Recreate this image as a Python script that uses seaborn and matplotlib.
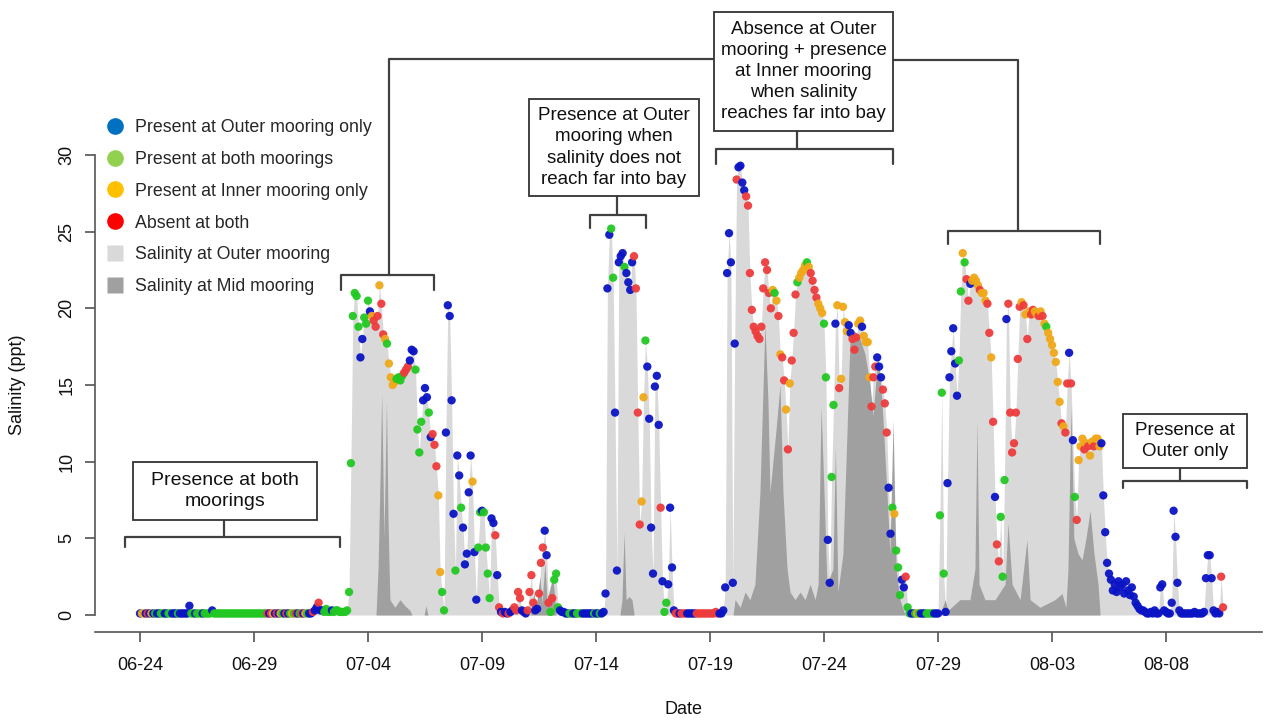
import numpy as np
import pandas as pd
import matplotlib
matplotlib.use("Agg")
import matplotlib.pyplot as plt
from matplotlib.lines import Line2D
from matplotlib.patches import Rectangle
import seaborn as sns

# ---------------------------------------------------------------------------
# Outer-mooring salinity (ppt), one reading every 2 h starting 06-24 00:00.
# Each inner list is one day (12 readings).
# ---------------------------------------------------------------------------
outer_jun24_jun30 = [
    [0.1, 0.1, 0.1, 0.1, 0.1, 0.1, 0.1, 0.1, 0.1, 0.1, 0.1, 0.1],
    [0.1, 0.1, 0.1, 0.1, 0.1, 0.1, 0.1, 0.1, 0.1, 0.1, 0.1, 0.1],
    [0.1, 0.1, 0.6, 0.1, 0.1, 0.1, 0.1, 0.1, 0.1, 0.1, 0.1, 0.1],
    [0.1, 0.1, 0.3, 0.1, 0.1, 0.1, 0.1, 0.1, 0.1, 0.1, 0.1, 0.1],
    [0.1, 0.1, 0.1, 0.1, 0.1, 0.1, 0.1, 0.1, 0.1, 0.1, 0.1, 0.1],
    [0.1, 0.1, 0.1, 0.1, 0.1, 0.1, 0.1, 0.1, 0.1, 0.1, 0.1, 0.1],
    [0.1, 0.1, 0.1, 0.1, 0.1, 0.1, 0.1, 0.1, 0.1, 0.1, 0.1, 0.1],
]
outer_jul01_jul07 = [
    [0.1, 0.1, 0.1, 0.1, 0.1, 0.1, 0.1, 0.2, 0.3, 0.5, 0.8, 0.3],
    [0.3, 0.2, 0.4, 0.2, 0.2, 0.3, 0.2, 0.3, 0.3, 0.2, 0.2, 0.2],
    [0.2, 0.3, 1.5, 9.9, 19.5, 21.0, 20.8, 18.8, 16.8, 18.0, 19.4, 19.0],
    [20.5, 19.8, 19.5, 19.2, 18.8, 19.5, 21.5, 20.3, 18.3, 18.0, 17.7, 16.4],
    [15.5, 15.0, 15.2, 15.4, 15.5, 15.3, 15.6, 15.8, 16.0, 16.2, 16.6, 17.3],
    [17.2, 16.0, 12.1, 10.6, 12.6, 14.0, 14.8, 14.2, 13.2, 11.6, 11.8, 11.1],
    [9.7, 7.8, 2.8, 1.5, 0.3, 11.9, 20.2, 19.5, 14.0, 6.6, 2.9, 10.4],
]
outer_jul08_jul14 = [
    [9.1, 7.0, 5.7, 3.3, 4.0, 8.0, 10.4, 8.7, 4.1, 1.0, 4.4, 6.7],
    [6.8, 6.7, 4.4, 2.7, 1.1, 6.3, 6.0, 5.2, 2.6, 0.5, 0.2, 0.1],
    [0.2, 0.1, 0.1, 0.2, 0.3, 0.5, 0.3, 1.5, 1.1, 0.3, 0.2, 0.1],
    [0.3, 1.5, 2.6, 0.8, 0.3, 0.4, 1.4, 3.4, 4.4, 5.5, 3.9, 0.8],
    [0.2, 1.1, 2.3, 2.7, 0.5, 0.3, 0.2, 0.2, 0.1, 0.1, 0.1, 0.1],
    [0.1, 0.1, 0.1, 0.1, 0.1, 0.1, 0.1, 0.1, 0.1, 0.1, 0.1, 0.1],
    [0.1, 0.1, 0.1, 0.1, 0.2, 1.4, 21.3, 24.8, 25.2, 22.0, 13.2, 2.9],
]
outer_jul15_jul21 = [
    [23.0, 23.4, 23.6, 22.7, 22.3, 21.7, 21.2, 23.0, 23.4, 21.3, 13.2, 5.9],
    [7.4, 14.2, 17.9, 16.2, 12.8, 5.7, 2.7, 14.9, 15.6, 12.4, 7.0, 2.2],
    [0.2, 0.8, 2.0, 7.0, 3.1, 0.3, 0.1, 0.1, 0.1, 0.1, 0.1, 0.1],
    [0.1, 0.1, 0.1, 0.1, 0.1, 0.1, 0.1, 0.1, 0.1, 0.1, 0.1, 0.1],
    [0.1, 0.1, 0.1, 0.2, 0.1, 0.1, 0.1, 0.3, 1.8, 22.3, 24.9, 23.0],
    [2.1, 17.7, 28.4, 29.2, 29.3, 28.2, 27.7, 27.3, 26.7, 22.3, 19.9, 18.8],
    [18.5, 18.2, 18.0, 18.8, 21.3, 23.0, 22.5, 21.0, 20.0, 21.2, 21.0, 20.5],
]
outer_jul22_jul28 = [
    [19.5, 17.0, 16.8, 15.3, 13.4, 10.8, 15.1, 16.6, 18.4, 20.9, 21.7, 22.0],
    [22.3, 22.5, 22.8, 23.0, 22.7, 22.3, 21.8, 21.2, 20.7, 20.3, 20.0, 19.7],
    [19.0, 15.5, 4.9, 2.1, 9.0, 13.7, 19.0, 20.2, 14.8, 15.4, 20.1, 19.1],
    [18.5, 18.9, 18.4, 18.0, 17.3, 18.1, 19.0, 19.2, 18.8, 18.2, 17.8, 17.8],
    [15.5, 13.6, 15.5, 16.2, 16.8, 16.2, 15.5, 14.7, 13.8, 11.9, 8.3, 5.3],
    [7.0, 6.6, 4.2, 3.1, 1.3, 2.3, 1.8, 2.5, 0.5, 0.1, 0.1, 0.1],
    [0.1, 0.1, 0.1, 0.1, 0.1, 0.1, 0.1, 0.1, 0.1, 0.1, 0.1, 0.1],
]
outer_jul29_aug04 = [
    [0.1, 6.5, 14.5, 2.7, 0.2, 8.6, 15.5, 17.2, 18.7, 16.4, 14.3, 16.6],
    [21.1, 23.6, 23.0, 21.9, 20.5, 21.6, 21.8, 22.0, 21.8, 21.5, 21.2, 21.0],
    [21.0, 20.5, 20.3, 18.4, 16.8, 12.6, 7.7, 4.6, 3.5, 6.4, 2.5, 8.8],
    [19.3, 20.3, 13.2, 10.6, 11.2, 13.2, 16.7, 20.1, 20.4, 20.2, 19.6, 18.0],
    [19.8, 19.6, 19.9, 19.8, 19.6, 19.5, 19.8, 19.5, 19.0, 18.8, 18.4, 18.0],
    [17.6, 17.1, 16.5, 15.2, 13.9, 12.5, 12.3, 11.9, 15.1, 17.1, 15.1, 11.4],
    [7.7, 6.2, 10.1, 11.0, 11.5, 10.8, 11.2, 11.0, 10.4, 11.3, 11.0, 11.5],
]
outer_aug05_aug10 = [
    [11.5, 11.0, 11.2, 7.8, 5.4, 3.4, 2.7, 2.3, 1.6, 2.0, 1.5, 2.2],
    [1.8, 2.0, 1.4, 2.2, 1.6, 1.3, 1.8, 1.2, 0.8, 0.6, 0.4, 0.3],
    [0.3, 0.2, 0.1, 0.1, 0.2, 0.1, 0.3, 0.1, 0.1, 1.8, 2.0, 0.3],
    [0.2, 0.1, 0.1, 0.8, 6.8, 5.1, 2.1, 0.3, 0.1, 0.1, 0.1, 0.1],
    [0.1, 0.1, 0.1, 0.2, 0.1, 0.1, 0.1, 0.1, 0.2, 2.4, 3.9, 3.9],
    [2.4, 0.3, 0.1, 0.2, 0.1, 2.5, 0.5],
]

# Detection status for each reading:
# b = outer mooring only, g = both moorings, y = inner mooring only, r = absent
status_jun24_jun30 = ["byybrbybgbbg", "gbbggbbbgbbb", "bbbggbgggbgg", "ggbggggggggg",
                      "gggggggggggg", "gggggggrbryb", "rbygbrbgygrb"]
status_jul01_jul07 = ["grbygbbrbbrb", "bggggbgggggg", "ggggggggbbgg", "gbyrrryrrygy",
                      "yyyggggrrrbb", "bggggbbbgbrr", "ryyggbbbbbgb"]
status_jul08_jul14 = ["bgbbbbbybbgg", "bggggbbrbrbr", "bbrbbrrrrbbb", "rrrrbbrrrbbr",
                      "grgggbbbbbgg", "bbgggbbbbbbg", "bbgbbbbbggbb"]
status_jul15_jul21 = ["bbbgbbbbrrrr", "yygbbbbbbbrb", "ggbbbbrrbrrr", "bbbbbrrrrrrr",
                      "rrrrrbbbbbbb", "bbrbbbbrrrrr", "rrrrrrrrrygy"]
status_jul22_jul28 = ["ryrryryrrrgy", "yyygyrrrryyy", "ggbbggbyryyy", "ybbrrryybyyy",
                      "yrrrbbbrrrbb", "gygggbbrggbb", "gygbbbggggbb"]
status_jul29_aug04 = ["bgggbbbbbbbg", "gygrrbyyyyry", "yyrryrbrrggg", "brrrrrrryryr",
                      "yrryyryrygyy", "yyyyyryrrbrb", "gryyyryryyry"]
status_aug05_aug10 = ["yybbbbbbbbbb", "bbbbbbbbbbbb", "bbbbbbbbbbbb", "bbbbbbbbbbbb",
                      "bbbbbbbbbbbb", "bbbbbrr"]

# Mid-mooring salinity (ppt): day offset from 06-24 00:00 and value
mid_day = [0.0, 10.35, 10.44, 10.53, 10.60, 10.66, 10.70, 10.75, 10.81, 10.88, 10.96,
           11.18, 11.40, 11.62, 11.84, 11.93, 12.46, 12.54, 12.63,
           17.11, 17.28, 17.37, 17.54, 17.63, 17.76, 17.85, 18.11, 18.25,
           21.05, 21.14, 21.23, 21.32, 21.45, 21.58, 21.67,
           26.01, 26.10, 26.32, 26.54, 26.75, 26.97, 27.19, 27.41, 27.54, 27.63, 27.76,
           27.89, 28.07, 28.20, 28.38, 28.51, 28.73, 28.95, 29.17, 29.39, 29.61, 29.74,
           29.87, 30.00, 30.13, 30.39, 30.50, 30.61, 30.83, 31.01, 31.14, 31.36, 31.58,
           31.80, 32.02, 32.15, 32.37, 32.54, 32.76, 32.89, 33.03, 33.16, 33.33, 33.55,
           35.09, 35.31, 35.44, 35.96, 36.40, 36.62, 36.71, 36.80, 37.06, 37.50, 37.94,
           38.07, 38.25, 38.60, 38.90, 39.04, 39.47, 40.13, 40.44, 40.61, 40.70, 40.83,
           40.96, 41.14, 41.32, 41.49, 41.67, 41.84, 42.02, 42.11, 47.5]
mid_sal = [0.0, 0.0, 3.0, 9.0, 14.5, 9.0, 5.0, 9.0, 14.0, 6.0, 1.0,
           0.5, 1.0, 0.6, 0.3, 0.0, 0.0, 0.6, 0.0,
           0.0, 1.5, 0.5, 2.5, 0.8, 3.4, 1.0, 2.5, 0.0,
           0.0, 1.0, 5.4, 1.0, 1.2, 1.0, 0.0,
           0.0, 1.0, 0.5, 1.5, 1.0, 2.0, 8.0, 19.0, 14.0, 8.0, 10.0,
           12.0, 15.0, 8.0, 3.0, 1.5, 1.0, 1.5, 1.0, 2.0, 1.0, 2.0,
           13.6, 8.0, 2.0, 3.0, 11.0, 1.5, 4.0, 12.0, 18.0, 18.5, 18.0,
           17.0, 15.0, 13.0, 17.0, 14.0, 8.0, 4.0, 12.7, 3.0, 1.0, 0.0,
           0.0, 1.0, 0.3, 1.0, 1.0, 3.0, 12.7, 2.0, 1.0, 1.0, 2.0,
           6.0, 2.0, 1.0, 4.9, 1.0, 0.5, 1.0, 1.4, 0.5, 3.0, 13.6,
           5.0, 4.0, 3.6, 5.0, 6.8, 4.0, 2.0, 0.0, 0.0]

tick_days = [0, 5, 10, 15, 20, 25, 30, 35, 40, 45]
tick_labels = ["06-24", "06-29", "07-04", "07-09", "07-14",
               "07-19", "07-24", "07-29", "08-03", "08-08"]

status_names = {
    "b": "Present at Outer mooring only",
    "g": "Present at both moorings",
    "y": "Present at Inner mooring only",
    "r": "Absent at both",
}
point_colors = {
    "Present at Outer mooring only": "#0a14c4",
    "Present at both moorings": "#22c822",
    "Present at Inner mooring only": "#f0a818",
    "Absent at both": "#ee3c3c",
}
key_colors = ["#0070c0", "#92d050", "#ffc000", "#ff0000"]
outer_grey, mid_grey = "#d9d9d9", "#a0a0a0"

# ---------------------------------------------------------------------------
# Assemble the series
# ---------------------------------------------------------------------------
weeks = [outer_jun24_jun30, outer_jul01_jul07, outer_jul08_jul14, outer_jul15_jul21,
         outer_jul22_jul28, outer_jul29_aug04, outer_aug05_aug10]
status_weeks = [status_jun24_jun30, status_jul01_jul07, status_jul08_jul14,
                status_jul15_jul21, status_jul22_jul28, status_jul29_aug04,
                status_aug05_aug10]
sal = np.array([v for wk in weeks for day in wk for v in day])
codes = "".join(s for wk in status_weeks for s in wk)
assert len(codes) == len(sal)
day = np.arange(len(sal)) / 12.0
df = pd.DataFrame({"day": day, "sal": sal,
                   "status": [status_names[c] for c in codes]})

# ---------------------------------------------------------------------------
# Figure
# ---------------------------------------------------------------------------
sns.set_theme(style="white")
plt.rcParams["font.family"] = ["Liberation Sans", "DejaVu Sans"]

W, H = 1268, 721
fig = plt.figure(figsize=(W / 100, H / 100), dpi=100)


def fx(px):
    return px / W


def fy(py):
    return 1 - py / H


ax = fig.add_axes([fx(95), fy(632), (1262 - 95) / W, (632 - 150) / H])
ax.set_facecolor("white")

ax.fill_between(day, 0, sal, color=outer_grey, lw=0, zorder=1)
ax.fill_between(mid_day, 0, mid_sal, color=mid_grey, lw=0, zorder=2)
sns.scatterplot(data=df, x="day", y="sal", hue="status",
                hue_order=list(point_colors), palette=point_colors,
                s=36, linewidth=0, alpha=0.95, legend=False, ax=ax, zorder=3)

ax.set_xlim(-1.974, 49.21)
ax.set_ylim(-1.109, 30.326)
ax.set_xticks(tick_days)
ax.set_xticklabels(tick_labels)
ax.set_yticks([0, 5, 10, 15, 20, 25, 30])
ax.set_yticklabels(["0", "5", "10", "15", "20", "25", "30"], rotation=90, va="center")
ax.tick_params(axis="both", direction="out", length=7, width=1.1, color="#444444",
               labelsize=13, labelcolor="#111111", bottom=True, left=True)
ax.tick_params(axis="x", pad=11)
ax.tick_params(axis="y", pad=7)
ax.set_xlabel("")
ax.set_ylabel("")

for side in ["top", "right"]:
    ax.spines[side].set_visible(False)
for side in ["left", "bottom"]:
    ax.spines[side].set_color("#555555")
    ax.spines[side].set_linewidth(1.2)
ax.spines["left"].set_bounds(0, 30)

fig.text(fx(683), fy(710), "Date", ha="center", va="center", fontsize=13, color="#111111")
fig.text(fx(18), fy(385), "Salinity (ppt)", ha="center", va="center", rotation=90,
         fontsize=13, color="#111111")

# legend
handles = [Line2D([], [], ls="", marker="o", markersize=12, markerfacecolor=c,
                  markeredgecolor="none", label=lab)
           for c, lab in zip(key_colors, point_colors)]
handles += [Line2D([], [], ls="", marker="s", markersize=11.5, markerfacecolor=outer_grey,
                   markeredgecolor="none", label="Salinity at Outer mooring"),
            Line2D([], [], ls="", marker="s", markersize=11.5, markerfacecolor=mid_grey,
                   markeredgecolor="none", label="Salinity at Mid mooring")]
fig.legend(handles=handles, loc="upper left", bbox_to_anchor=(fx(106), fy(119)),
           bbox_transform=fig.transFigure, frameon=False, fontsize=12.8,
           handlelength=1.0, handletextpad=0.65, labelspacing=0.835,
           borderpad=0, borderaxespad=0)

# annotation boxes and brackets
line_kw = dict(color="#404040", lw=1.6, transform=fig.transFigure, solid_capstyle="round")


def seg(points):
    xs = [fx(p[0]) for p in points]
    ys = [fy(p[1]) for p in points]
    fig.add_artist(Line2D(xs, ys, **line_kw))


def bracket(x0, x1, y, end, xc, tip):
    seg([(x0, y + end), (x0, y), (x1, y), (x1, y + end)])
    seg([(xc, y), (xc, tip)])


def box(x0, x1, y0, y1, text, fs=13.5):
    fig.add_artist(Rectangle((fx(x0), fy(y1)), (x1 - x0) / W, (y1 - y0) / H,
                             transform=fig.transFigure, facecolor="white",
                             edgecolor="#333333", lw=1.3, zorder=5))
    fig.text(fx((x0 + x1) / 2), fy((y0 + y1) / 2), text, ha="center", va="center",
             fontsize=fs, linespacing=1.32, color="#111111", zorder=6)


box(133, 317, 462, 520, "Presence at both\nmoorings", fs=14)
bracket(125, 340, 537, 10, 224, 520)

box(529, 699, 99, 196, "Presence at Outer\nmooring when\nsalinity does not\nreach far into bay")
bracket(590, 646, 215, 13, 617, 196)

box(714, 893, 12, 131, "Absence at Outer\nmooring + presence\nat Inner mooring\nwhen salinity\nreaches far into bay")
bracket(716, 893, 149, 15, 797, 131)
seg([(714, 59), (389, 59), (389, 275)])
bracket(341, 434, 275, 15, 389, 275)
seg([(893, 60), (1018, 60), (1018, 231)])
bracket(948, 1100, 231, 13, 1018, 231)

box(1123, 1247, 414, 468, "Presence at\nOuter only", fs=13.5)
bracket(1123, 1247, 481, 7, 1180, 468)

fig.savefig("out.png", dpi=100, facecolor="white")
